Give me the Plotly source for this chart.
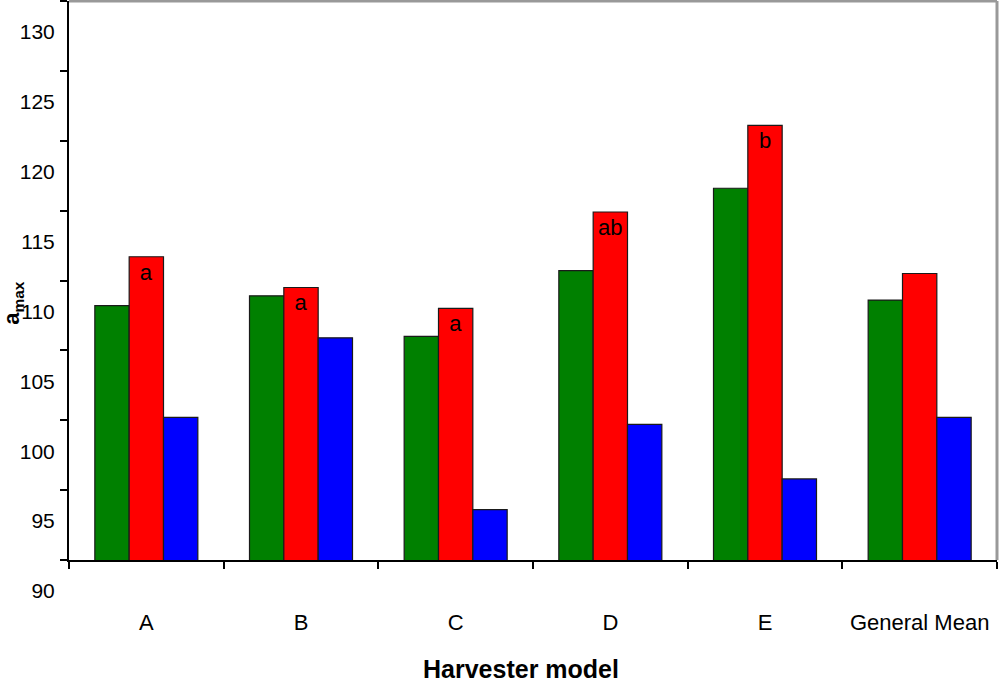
import plotly.graph_objects as go

categories = ["A", "B", "C", "D", "E", "General Mean"]
green_vals = [108.2, 108.9, 106.0, 110.7, 116.6, 108.6]
red_vals = [111.7, 109.5, 108.0, 114.9, 121.1, 110.5]
blue_vals = [100.2, 105.9, 93.6, 99.7, 95.8, 100.2]
red_letters = ["a", "a", "a", "ab", "b", ""]
y_ticks = [90, 95, 100, 105, 110, 115, 120, 125, 130]

FONT = "Arial, Liberation Sans, sans-serif"
outline = dict(color="#1a1a1a", width=1.2)

fig = go.Figure()
fig.add_trace(go.Bar(x=categories, y=green_vals, marker=dict(color="#008000", line=outline),
                     hoverinfo="y"))
fig.add_trace(go.Bar(x=categories, y=red_vals, marker=dict(color="#FF0000", line=outline),
                     text=red_letters, textposition="inside", insidetextanchor="end",
                     textangle=0, textfont=dict(color="black", size=22, family=FONT),
                     constraintext="none", hoverinfo="y"))
fig.add_trace(go.Bar(x=categories, y=blue_vals, marker=dict(color="#0000FF", line=outline),
                     hoverinfo="y"))

fig.update_layout(
    width=1000, height=683,
    margin=dict(l=69, r=3, t=1, b=123, autoexpand=False),
    paper_bgcolor="white", plot_bgcolor="white",
    barmode="group", bargap=0.334, bargroupgap=0,
    showlegend=False,
    font=dict(family=FONT, color="black", size=21),
)
fig.update_xaxes(
    automargin=False,
    showline=True, linecolor="black", linewidth=2,
    ticks="outside", tickson="boundaries", ticklen=7, tickwidth=2, tickcolor="black",
    tickfont=dict(size=22, family=FONT), ticklabelstandoff=42,
    showgrid=False, zeroline=False,
)
fig.update_yaxes(
    automargin=False,
    range=[90, 130], tickvals=y_ticks, ticktext=[str(v) for v in y_ticks],
    showline=True, linecolor="black", linewidth=2,
    ticks="outside", ticklen=7, tickwidth=2, tickcolor="black",
    tickfont=dict(size=21, family=FONT), ticklabelshift=31, ticklabelstandoff=1,
    showgrid=False, zeroline=False,
)
fig.add_shape(type="line", xref="paper", yref="paper", x0=0, x1=1, y0=1, y1=1,
              line=dict(color="#999999", width=3), layer="above")
fig.add_shape(type="line", xref="paper", yref="paper", x0=1, x1=1, y0=0, y1=1,
              line=dict(color="#999999", width=3), layer="above")
fig.add_annotation(xref="paper", yref="paper", x=-0.0605, y=0.46, xanchor="center", yanchor="middle",
                   text="<b>a<sub>max</sub></b>", textangle=-90, showarrow=False,
                   font=dict(size=22, family=FONT, color="black"))
fig.add_annotation(xref="paper", yref="paper", x=0.487, y=-0.195, xanchor="center", yanchor="middle",
                   text="<b>Harvester model</b>", showarrow=False,
                   font=dict(size=25, family=FONT, color="black"))

fig.write_html("out.html", config={"displayModeBar": False},
               post_script="document.body.style.margin='0';")
